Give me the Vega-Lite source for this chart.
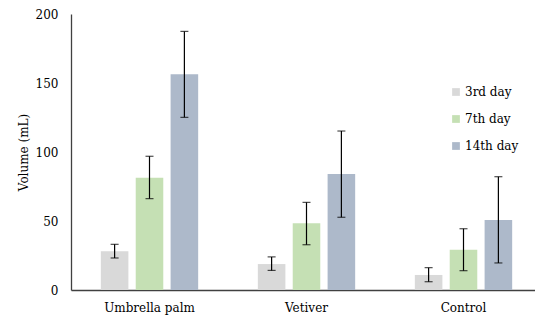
{
  "$schema": "https://vega.github.io/schema/vega-lite/v6.json",
  "autosize": {"type": "none"},
  "width": 471,
  "height": 276,
  "padding": {"left": 71, "top": 14, "right": 0, "bottom": 28},
  "background": "white",
  "config": {
    "font": "DejaVu Serif",
    "view": {"stroke": null},
    "axis": {"labelFont": "DejaVu Serif", "titleFont": "DejaVu Serif", "labelFontSize": 12, "titleFontSize": 12, "labelColor": "#000", "titleColor": "#000", "titleFontWeight": "normal", "grid": false, "ticks": false, "domainColor": "#404040", "domainWidth": 1.3},
    "legend": {"labelFont": "DejaVu Serif", "labelFontSize": 12, "labelColor": "#000"}
  },
  "data": {
    "values": [
      {"group": "Umbrella palm", "day": "3rd day", "value": 28, "lo": 23.2, "hi": 33.1},
      {"group": "Umbrella palm", "day": "7th day", "value": 81.4, "lo": 66.2, "hi": 96.9},
      {"group": "Umbrella palm", "day": "14th day", "value": 156.3, "lo": 125.1, "hi": 187.4},
      {"group": "Vetiver", "day": "3rd day", "value": 18.8, "lo": 14.2, "hi": 24.0},
      {"group": "Vetiver", "day": "7th day", "value": 48.3, "lo": 32.8, "hi": 63.5},
      {"group": "Vetiver", "day": "14th day", "value": 84, "lo": 52.7, "hi": 115.2},
      {"group": "Control", "day": "3rd day", "value": 10.9, "lo": 6.0, "hi": 16.2},
      {"group": "Control", "day": "7th day", "value": 29.2, "lo": 14.0, "hi": 44.4},
      {"group": "Control", "day": "14th day", "value": 50.7, "lo": 19.6, "hi": 82.1}
    ]
  },
  "encoding": {
    "x": {"field": "group", "type": "nominal", "sort": ["Umbrella palm", "Vetiver", "Control"],
      "scale": {"paddingInner": 0.38, "paddingOuter": 0.19},
      "axis": {"title": null, "labelAngle": 0, "labelPadding": 12}},
    "xOffset": {"field": "day", "type": "nominal", "sort": ["3rd day", "7th day", "14th day"],
      "scale": {"paddingInner": 0.21, "paddingOuter": 0}}
  },
  "layer": [
    {
      "mark": {"type": "bar"},
      "encoding": {
        "y": {"field": "value", "type": "quantitative", "scale": {"domain": [0, 200]},
          "axis": {"title": "Volume (mL)", "values": [0, 50, 100, 150, 200], "labelPadding": 13, "titlePadding": 5}},
        "color": {"field": "day", "type": "nominal", "sort": ["3rd day", "7th day", "14th day"],
          "scale": {"domain": ["3rd day", "7th day", "14th day"], "range": ["#d9d9d9", "#c5e0b4", "#adb9ca"]},
          "legend": {"title": null, "orient": "none", "legendX": 379, "legendY": 72, "symbolType": "square", "symbolSize": 60, "symbolStrokeWidth": 0, "rowPadding": 15, "labelOffset": 3, "padding": 0}}
      }
    },
    {
      "mark": {"type": "rule", "color": "#000", "strokeWidth": 1.2},
      "encoding": {
        "y": {"field": "lo", "type": "quantitative"},
        "y2": {"field": "hi"}
      }
    },
    {
      "mark": {"type": "tick", "color": "#000", "thickness": 1.2, "size": 8, "orient": "horizontal"},
      "encoding": {"y": {"field": "lo", "type": "quantitative"}}
    },
    {
      "mark": {"type": "tick", "color": "#000", "thickness": 1.2, "size": 8, "orient": "horizontal"},
      "encoding": {"y": {"field": "hi", "type": "quantitative"}}
    }
  ]
}
